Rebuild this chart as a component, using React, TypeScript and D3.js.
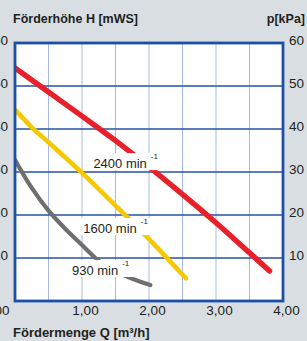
import React, {useEffect, useRef} from 'react'
import * as d3 from 'd3'

const width = 307;
const height = 341;
const plot = {left: 15, right: 283, top: 43, bottom: 301};

// flow Q [m3/h] and head H for each speed
const flow2400 = [0, 0.5, 1.0, 1.5, 2.0, 2.5, 3.0, 3.5, 3.8];
const head2400 = [54.2, 48.6, 43, 37.3, 31.2, 24.8, 18.2, 11.2, 7];
const flow1600 = [0, 0.25, 0.5, 1.0, 1.5, 2.0, 2.55];
const head1600 = [44.5, 40.4, 36.9, 29.8, 22.2, 14.4, 5.3];
const flow930 = [0, 0.25, 0.5, 0.75, 1.0, 1.2, 1.6, 2.02];
const head930 = [32.8, 26.3, 21, 16.8, 13, 10, 6.2, 3.7];

const speedLabels = ["2400 min", "1600 min", "930 min"];
const speedColors = ["#e8202a", "#f6c800", "#6f6f6f"];
const speedWidths = [5.4, 4.6, 4.2];
const labelQ = [1.17, 1.02, 0.85];
const labelH = [30.9, 15.8, 6.05];

const xTicks = [0, 1, 2, 3, 4];
const xGrid = [0.5, 1, 1.5, 2, 2.5, 3, 3.5];
const yTicks = [60, 50, 40, 30, 20, 10];

const font = "'Liberation Sans', Arial, sans-serif";
const textColor = "#231f20";

export default function App() {
    const ref = useRef<SVGSVGElement>(null);

    useEffect(() => {
        const svg = d3.select(ref.current);
        svg.selectAll("*").remove();

        const x = d3.scaleLinear().domain([0, 4]).range([plot.left, plot.right]);
        const y = d3.scaleLinear().domain([0, 60]).range([plot.bottom, plot.top]);

        svg.append("rect")
            .attr("width", width).attr("height", height)
            .attr("fill", "#d8dee2");

        svg.append("defs").append("clipPath").attr("id", "plot-clip")
            .append("rect")
            .attr("x", plot.left).attr("y", plot.top)
            .attr("width", plot.right - plot.left).attr("height", plot.bottom - plot.top);

        svg.append("rect")
            .attr("x", plot.left).attr("y", plot.top)
            .attr("width", plot.right - plot.left).attr("height", plot.bottom - plot.top)
            .attr("fill", "#fff");

        svg.append("g")
            .attr("stroke", "#a6bbe3")
            .attr("stroke-width", 1)
            .selectAll("line")
            .data(xGrid)
            .join("line")
            .attr("x1", d => x(d)).attr("x2", d => x(d))
            .attr("y1", plot.top).attr("y2", plot.bottom);

        svg.append("g")
            .attr("stroke", "#2651a6")
            .attr("stroke-width", 1.3)
            .selectAll("line")
            .data(yTicks.slice(1))
            .join("line")
            .attr("x1", plot.left).attr("x2", plot.right)
            .attr("y1", d => y(d)).attr("y2", d => y(d));

        const series = [
            {flow: flow2400, head: head2400},
            {flow: flow1600, head: head1600},
            {flow: flow930, head: head930},
        ];

        const line = d3.line<[number, number]>()
            .x(d => x(d[0]))
            .y(d => y(d[1]))
            .curve(d3.curveMonotoneX);

        svg.append("g")
            .attr("clip-path", "url(#plot-clip)")
            .attr("fill", "none")
            .attr("stroke-linecap", "round")
            .selectAll("path")
            .data(series)
            .join("path")
            .attr("stroke", (d, i) => speedColors[i])
            .attr("stroke-width", (d, i) => speedWidths[i])
            .attr("d", d => line(d.flow.map((q, i) => [q, d.head[i]] as [number, number])));

        // speed labels on white boxes
        speedLabels.forEach((label, i) => {
            const g = svg.append("g");
            const bx = x(labelQ[i]);
            const by = y(labelH[i]);
            const box = g.append("rect").attr("fill", "#fff");
            const t = g.append("text")
                .attr("x", bx).attr("y", by)
                .attr("font-family", font)
                .attr("font-size", 13)
                .attr("fill", textColor)
                .text(label);
            t.append("tspan")
                .attr("dx", 4)
                .attr("dy", -9)
                .attr("font-size", 8)
                .text("-1");
            const bb = (t.node() as SVGTextElement).getBBox();
            box.attr("x", bx - 3).attr("y", by - 15)
                .attr("width", bb.width + 7).attr("height", 17);
        });

        // plot frame
        svg.append("rect")
            .attr("x", plot.left).attr("y", plot.top)
            .attr("width", plot.right - plot.left).attr("height", plot.bottom - plot.top)
            .attr("fill", "none")
            .attr("stroke", "#1c4fa6")
            .attr("stroke-width", 2.8);

        const labels = svg.append("g")
            .attr("font-family", font)
            .attr("font-size", 13.5)
            .attr("fill", textColor);

        // left labels are cut by the left edge, as in the reference
        labels.selectAll("text.yl")
            .data(yTicks)
            .join("text")
            .attr("class", "yl")
            .attr("x", 8)
            .attr("y", d => y(d) + 2)
            .attr("text-anchor", "end")
            .text(d => d);

        labels.selectAll("text.yr")
            .data(yTicks)
            .join("text")
            .attr("class", "yr")
            .attr("x", 304)
            .attr("y", d => y(d) + 2)
            .attr("text-anchor", "end")
            .text(d => d);

        labels.selectAll("text.xl")
            .data(xTicks)
            .join("text")
            .attr("class", "xl")
            .attr("x", d => d === 0 ? 9.5 : x(d) + 3.5)
            .attr("y", 315)
            .attr("text-anchor", d => d === 0 ? "end" : "middle")
            .text(d => d3.format(".2f")(d).replace(".", ","));

        const titles = svg.append("g")
            .attr("font-family", font)
            .attr("font-weight", "bold")
            .attr("fill", textColor);

        titles.append("text").attr("x", 13).attr("y", 23).attr("font-size", 12.5)
            .text("Förderhöhe H [mWS]");
        titles.append("text").attr("x", 305).attr("y", 23).attr("font-size", 12.5)
            .attr("text-anchor", "end").text("p[kPa]");
        titles.append("text").attr("x", 13).attr("y", 337).attr("font-size", 13)
            .text("Fördermenge Q [m³/h]");
    }, []);

    return <svg ref={ref} width={width} height={height}
                style={{position: "fixed", left: 0, top: 0, display: "block"}}/>;
}
